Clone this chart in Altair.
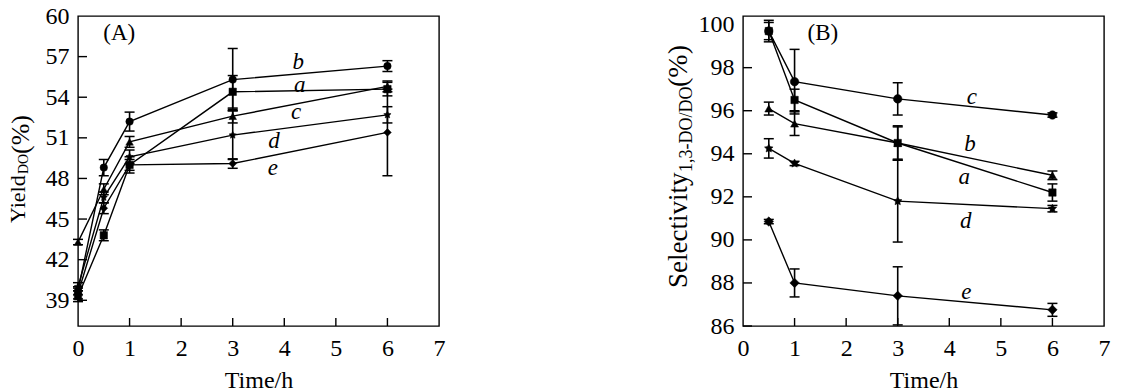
import altair as alt
import pandas as pd

# ---------------- Panel A : Yield_DO (%) ----------------
A_time = [0, 0.5, 1, 3, 6]
A_a = [39.3, 43.8, 49.0, 54.4, 54.6]
A_b = [39.7, 48.8, 52.2, 55.3, 56.3]
A_c = [43.3, 47.2, 50.7, 52.6, 54.8]
A_d = [40.0, 46.6, 49.6, 51.2, 52.7]
A_e = [39.5, 45.8, 49.0, 49.1, 51.4]
A_err_a = [0.4, 0.4, 0.4, 1.2, 0.5]
A_err_b = [0.3, 0.6, 0.7, 2.3, 0.4]
A_err_c = [0.2, 0.4, 0.4, 0.5, 0.4]
A_err_d = [0.3, 0.4, 0.5, 1.8, 0.6]
A_err_e = [0.4, 0.4, 0.6, 0.35, 3.2]
A_lab = ["a", "b", "c", "d", "e"]
A_lab_x = [4.30, 4.27, 4.23, 3.80, 3.78]
A_lab_y = [54.9, 56.6, 52.9, 50.8, 48.8]
A_yticks = [39, 42, 45, 48, 51, 54, 57, 60]

# ---------------- Panel B : Selectivity (%) ----------------
B_time = [0.5, 1, 3, 6]
B_a = [99.7, 96.5, 94.5, 92.2]
B_b = [96.1, 95.4, 94.5, 93.0]
B_c = [99.7, 97.35, 96.55, 95.8]
B_d = [94.25, 93.55, 91.8, 91.45]
B_e = [90.85, 88.0, 87.4, 86.75]
B_err_a = [0.4, 0.5, 0.8, 0.4]
B_err_b = [0.3, 0.55, 0.75, 0.2]
B_err_c = [0.5, 1.5, 0.75, 0.1]
B_err_d = [0.45, 0.1, 1.9, 0.15]
B_err_e = [0.1, 0.65, 1.35, 0.3]
B_lab = ["a", "b", "c", "d", "e"]
B_lab_x = [4.29, 4.40, 4.44, 4.32, 4.33]
B_lab_y = [92.9, 94.45, 96.65, 90.9, 87.6]
B_yticks = [86, 88, 90, 92, 94, 96, 98, 100]

X_TICKS = [0, 1, 2, 3, 4, 5, 6, 7]
SERIES = ["a", "b", "c", "d", "e"]

STAR = ("M0,-1 L0.294,-0.405 L0.951,-0.309 L0.476,0.155 L0.588,0.809 L0,0.5 "
        "L-0.588,0.809 L-0.476,0.155 L-0.951,-0.309 L-0.294,-0.405 Z")

W, H = 361, 310
FONT = "Liberation Serif, Times New Roman, Times, serif"


def long_table(time, vals, errs):
    rows = []
    for s, v_list, e_list in zip(SERIES, vals, errs):
        for t, v, e in zip(time, v_list, e_list):
            rows.append({"t": t, "s": s, "v": v, "lo": v - e, "hi": v + e})
    return pd.DataFrame(rows)


def panel(df, labs, ydom, yticks, shape_range, size_range, tag, tag_xy, title_parts):
    xs = alt.Scale(domain=[0, 7], nice=False, zero=False)
    ys = alt.Scale(domain=ydom, nice=False, zero=False)
    xaxis = alt.Axis(values=X_TICKS, title="Time/h", ticks=False, domain=False,
                     grid=False, labelFont=FONT, labelFontSize=24, labelColor="black",
                     labelPadding=10, labelFlush=False, titleFont=FONT, titleFontSize=24,
                     titleFontWeight="normal", titleColor="black", titlePadding=8,
                     format="d")
    yaxis = alt.Axis(values=yticks, title=None, ticks=False, domain=False, grid=False,
                     labelFont=FONT, labelFontSize=24, labelColor="black",
                     labelPadding=9, labelFlush=False, format="d")

    def X(f):
        return alt.X(f"{f}:Q", scale=xs, axis=xaxis)

    def Y(f):
        return alt.Y(f"{f}:Q", scale=ys, axis=yaxis)

    base = alt.Chart(df)
    lines = base.mark_line(color="black", strokeWidth=1.4).encode(
        x=X("t"), y=Y("v"), detail="s:N")
    bars = base.mark_rule(color="black", strokeWidth=1.6).encode(
        x=X("t"), y=Y("lo"), y2="hi:Q")
    cap_lo = base.mark_tick(orient="horizontal", color="black", size=10,
                            thickness=1.5, opacity=1).encode(x=X("t"), y=Y("lo"))
    cap_hi = base.mark_tick(orient="horizontal", color="black", size=10,
                            thickness=1.5, opacity=1).encode(x=X("t"), y=Y("hi"))
    pts = base.mark_point(filled=True, color="black", opacity=1, strokeWidth=0.5,
                          stroke="black").encode(
        x=X("t"), y=Y("v"),
        shape=alt.Shape("s:N", scale=alt.Scale(domain=SERIES, range=shape_range),
                        legend=None),
        size=alt.Size("s:N", scale=alt.Scale(domain=SERIES, range=size_range),
                      legend=None))

    xt = alt.Chart(pd.DataFrame({"t": X_TICKS[1:-1]})).mark_rule(
        color="black", strokeWidth=1.4).encode(x=X("t"), y=alt.value(H), y2=alt.value(H - 8))
    yt = alt.Chart(pd.DataFrame({"v": yticks[:-1]})).mark_rule(
        color="black", strokeWidth=1.4).encode(y=Y("v"), x=alt.value(0), x2=alt.value(9))

    lab_text = alt.Chart(labs).mark_text(font=FONT, fontStyle="italic", fontSize=23,
                                         color="black").encode(
        x=X("x"), y=Y("y"), text="lab:N")
    tag_df = pd.DataFrame({"x": [tag_xy[0]], "y": [tag_xy[1]], "lab": [tag]})
    tag_text = alt.Chart(tag_df).mark_text(font=FONT, fontSize=23, color="black").encode(
        x=X("x"), y=Y("y"), text="lab:N")

    one = pd.DataFrame({"k": [0]})
    tparts = []
    for txt, px, py, fs in title_parts:
        tparts.append(alt.Chart(one).mark_text(
            font=FONT, fontSize=fs, angle=270, align="left", baseline="alphabetic",
            color="black").encode(x=alt.value(px), y=alt.value(py), text=alt.value(txt)))

    return alt.layer(lines, bars, cap_lo, cap_hi, pts, xt, yt, lab_text, tag_text,
                     *tparts).properties(width=W, height=H)


dfA = long_table(A_time, [A_a, A_b, A_c, A_d, A_e],
                 [A_err_a, A_err_b, A_err_c, A_err_d, A_err_e])
dfB = long_table(B_time, [B_a, B_b, B_c, B_d, B_e],
                 [B_err_a, B_err_b, B_err_c, B_err_d, B_err_e])
labsA = pd.DataFrame({"lab": A_lab, "x": A_lab_x, "y": A_lab_y})
labsB = pd.DataFrame({"lab": B_lab, "x": B_lab_x, "y": B_lab_y})

shapesA = ["square", "circle", "triangle-up", STAR, "diamond"]
shapesB = ["square", "triangle-up", "circle", STAR, "diamond"]
sizesA = [55, 60, 90, 240, 80]
sizesB = [55, 90, 60, 240, 80]

# title pieces: (text, x, y, fontSize) in plot-relative pixels
titleA = [("Yield", -53, 207, 22), ("DO", -50, 158, 14), ("(%)", -49, 138, 26)]
titleB = [("Selectivity", -56, 272, 27), ("1,3-DO/DO", -51, 156, 18),
          ("(%)", -56, 71, 28)]

pA = panel(dfA, labsA, [37.1, 60], A_yticks, shapesA, sizesA, "(A)", (0.8, 58.75), titleA)
pB = panel(dfB, labsB, [86, 100.4], B_yticks, shapesB, sizesB, "(B)", (1.55, 99.6), titleB)

chart = alt.hconcat(pA, pB, spacing=304, bounds="flush").resolve_scale(
    shape="independent", size="independent", x="independent", y="independent"
).configure_view(stroke="black", strokeWidth=1.4).properties(
    padding={"left": -2, "top": -5, "right": 0, "bottom": 0}, background="white")

chart.save("out.html", embed_options={"renderer": "svg", "actions": False})
